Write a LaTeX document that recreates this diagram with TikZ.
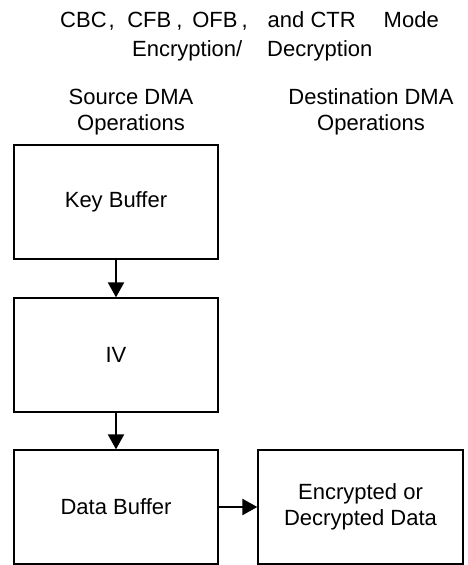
\documentclass[tikz,border=0pt]{standalone}
\usepackage{fontspec}
\setmainfont{Liberation Sans}
\usetikzlibrary{arrows.meta}
\begin{document}
\begin{tikzpicture}[x=1pt,y=1pt,
  every node/.style={font=\fontsize{22}{25.5}\selectfont},
  box/.style={draw, line width=1.3pt, minimum width=204pt, minimum height=114pt, inner sep=0pt, align=center},
  label/.style={inner sep=0pt, align=center},
  flow/.style={line width=2.2pt, -{Triangle[length=15pt,width=16pt]}}]
\useasboundingbox (0,0) rectangle (467,-565);
% title
\node[inner sep=0pt, anchor=base west] (t1) at (60,-27)
  {CBC\hspace{2pt},\hspace{12.5pt}CFB\hspace{5pt},\hspace{10pt}OFB\hspace{4pt},\hspace{20pt}and CTR\hspace{28pt}Mode};
\node[inner sep=0pt, anchor=base west] (t2) at (132,-56)
  {Encryption/\hspace{25pt}Decryption};
% column headers
\node[label] (src) at (131,-112) {Source DMA\\Operations};
\node[label] (dst) at (371,-112) {Destination DMA\\Operations};
% boxes
\node[box] (key) at (116,-202) {Key Buffer};
\node[box] (iv) at (116,-355) {IV};
\node[box] (data) at (116,-507) {Data Buffer};
\node[box, minimum width=205pt] (enc) at (360.5,-507) {Encrypted or\\Decrypted Data};
% connectors
\draw[flow] (key) -- (iv);
\draw[flow] (iv) -- (data);
\draw[flow] (data) -- (enc);
\end{tikzpicture}
\end{document}
